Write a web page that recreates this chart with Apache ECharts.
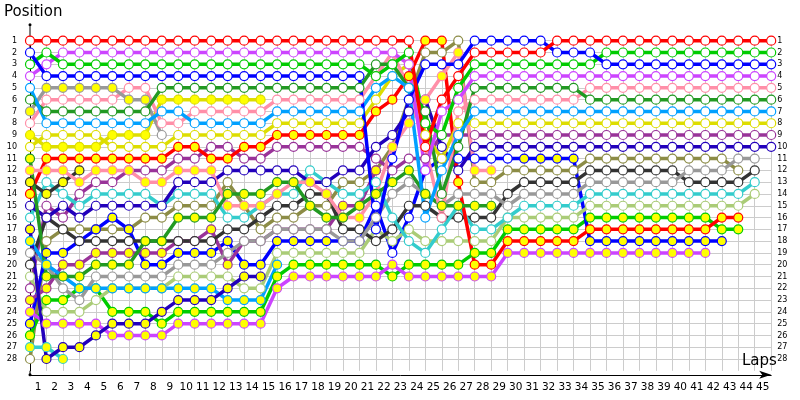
<!DOCTYPE html>
<html><head><meta charset="utf-8">
<script src="https://cdn.jsdelivr.net/npm/echarts@6/dist/echarts.min.js"></script>
<style>html,body{margin:0;padding:0;background:#fff}#c{width:800px;height:400px}</style>
</head><body><div id="c"></div>
<script>
const lapLabels = ['1','2','3','4','5','6','7','8','9','10','11','12','13','14','15','16','17','18','19','20','21','22','23','24','25','26','27','28','29','30','31','32','33','34','35','36','37','38','39','40','41','42','43','44','45'];
const posLabels = ['1','2','3','4','5','6','7','8','9','10','11','12','13','14','15','16','17','18','19','20','21','22','23','24','25','26','27','28'];

// positions per lap column (0..45); fill: W = white marker, Y = yellow marker
const redW = [1,1,1,1,1,1,1,1,1,1, 1,1,1,1,1,1,1,1,1,1, 1,1,1,1,10,6,4,2,2,2, 2,2,1,1,1,1,1,1,1,1, 1,1,1,1,1,1];
const redWFill = 'WWWWWWWWWWWWWWWWWWWWWWWWWWWWWWWWWWWWWWWWWWWWWW';
const blueW = [2,4,4,4,4,4,4,4,4,4, 4,4,4,4,4,4,4,4,4,4, 4,17,11,6,3,3,3,1,1,1, 1,1,2,2,2,3,3,3,3,3, 3,3,3,3,3,3];
const blueWFill = 'WWWWWWWWWWWWWWWWWWWWWWWWWWWWWWWWWWWWWWWWWWWWWW';
const greenW = [3,2,3,3,3,3,3,3,3,3, 3,3,3,3,3,3,3,3,3,3, 3,4,3,2,8,9,5,3,3,3, 3,3,3,3,3,2,2,2,2,2, 2,2,2,2,2,2];
const greenWFill = 'WWWWWWWWWWWWWWWWWWWWWWWWWWWWWWWWWWWWWWWWWWWWWW';
const violetW = [4,3,2,2,2,2,2,2,2,2, 2,2,2,2,2,2,2,2,2,2, 2,2,2,3,12,7,6,4,4,4, 4,4,4,4,4,4,4,4,4,4, 4,4,4,4,4,4];
const violetWFill = 'WWWWWWWWWWWWWWWWWWWWWWWWWWWWWWWWWWWWWWWWWWWWWW';
const ltblueW = [5,8,8,8,8,8,8,8,7,7, 8,8,8,8,8,7,7,7,7,7, 7,5,4,5,16,12,9,7,7,7, 7,7,7,7,7,7,7,7,7,7, 7,7,7,7,7,7];
const ltblueWFill = 'WWWWWWWWWWWWWWWWWWWWWWWWWWWWWWWWWWWWWWWWWWWWWW';
const dkgreenW = [6,7,7,7,7,7,7,7,5,5, 5,5,5,5,5,5,5,5,5,5, 5,3,3,5,7,14,10,5,5,5, 5,5,5,5,6,6,6,6,6,6, 6,6,6,6,6,6];
const dkgreenWFill = 'WWWWWWWWWWWWWWWWWWWWWWWWWWWWWWWWWWWWWWWWWWWWWW';
const grayY = [7,5,5,5,5,5,6,6,9];
const grayYFill = 'YYYYYYYYW';
const pinkW = [8,6,6,6,6,6,5,5,8,8, 7,7,7,7,7,6,6,6,6,6, 6,4,2,5,10,16,7,6,6,6, 6,6,6,6,5,5,5,5,5,5, 5,5,5,5,5,5];
const pinkWFill = 'WWWWWWWWWWWWWWWWWWWWWWWWWWWWWWWWWWWWWWWWWWWWWW';
const yellowY = [9,10,10,10,10,9,9,9,6,6, 6,6,6,6,6];
const yellowYFill = 'YYYYYYYYYYYYYYY';
const yellowW = [10,9,9,9,9,10,10,10,10,9, 9,9,9,9,9,8,8,8,8,8, 8,6,4,3,9,11,8,8,8,8, 8,8,8,8,8,8,8,8,8,8, 8,8,8,8,8,8];
const yellowWFill = 'WWWWWWWWWWWWWWWWWWWWWWWWWWWWWWWWWWWWWWWWWWWWWW';
const dkgreenY = [11,21,21,21,20,20,20,18,18,16, 16,16,14,14,14,13,13,15,16,16, 15,14,13,12,14,15,15,15,15];
const dkgreenYFill = 'YYYYYYYYYYYYYYYYYYYYYYYYYYYYY';
const pinkY = [12,12,12,13,12,12,12,13,13,12, 12,12,15,15,15,14,13,13,14,16, 16,14,10,8,6,4,2,12,12];
const pinkYFill = 'YYYYYYYYYYYYYYYYYYYYYYYYYYYYY';
const blackY = [13,14,13,12];
const blackYFill = 'YYYY';
const redY = [14,11,11,11,11,11,11,11,11,10, 10,11,11,10,10,9,9,9,9,9, 9,7,6,4,1,1,13,20,20,18, 18,18,18,18,17,17,17,17,17,17, 17,17,16,16];
const redYFill = 'YYYYYYYYYYYYYYYYYYYYYYYYYYYYYYYYYYYYYYYYYYYY';
const navyW = [15,16,15,16,15,15,15,15,15,13, 13,13,12,12,12,12,12,13,13,12, 12,10,9,7,6,10,12,10,10,10, 10,10,10,10,10,10,10,10,10,10, 10,10,10,10,10,10];
const navyWFill = 'WWWWWWWWWWWWWWWWWWWWWWWWWWWWWWWWWWWWWWWWWWWWWW';
const cyanW = [16,13,14,15,14,14,14,14,15,14, 14,14,16,16,15,14,14,12,13,14, 14,13,16,18,19,17,15,17,17,16, 15,15,15,15,14,14,14,14,14,14, 14,14,14,14,13];
const cyanWFill = 'WWWWWWWWWWWWWWWWWWWWWWWWWWWWWWWWWWWWWWWWWWWWW';
const navyY = [17,28,27,27,26,25,25,25,24,23, 23,23,22,21,21];
const navyYFill = 'YYYYYYYYYYYYYYY';
const ltblueY = [18,20,21,22,22,22,22,22,22,22, 22,22,23,23,23,20];
const ltblueYFill = 'YYYYYYYYYYYYYYYY';
const grayW = [19,20,22,23,21,21,21,21,21,20, 20,20,19,18,18,17,17,17,17,18, 18,16,14,13,14,15,14,14,14,15, 14,14,14,14,13,13,13,13,13,13, 12,12,12,11,11];
const grayWFill = 'WWWWWWWWWWWWWWWWWWWWWWWWWWWWWWWWWWWWWWWWWWWWW';
const blackW = [20,16,17,18,18,18,18,18,18,18, 18,18,17,17,16,15,15,14,14,17, 17,18,17,15,15,16,16,16,16,14, 13,13,13,13,12,12,12,12,12,12, 13,13,13,13,12];
const blackWFill = 'WWWWWWWWWWWWWWWWWWWWWWWWWWWWWWWWWWWWWWWWWWWWW';
const ltgreenW = [21,24,24,24,23,22,22,22,22,21, 21,21,21,22,22,19,19,19,19,19, 19,17,18,17,18,18,18,18,18,16, 16,16,16,16,15,15,15,15,15,15, 15,15,15,15,14];
const ltgreenWFill = 'WWWWWWWWWWWWWWWWWWWWWWWWWWWWWWWWWWWWWWWWWWWWW';
const purpleW = [22,15,16,14,13,13,12,12,12,11, 11,10,10,11,11,10,10,10,10,10, 10,11,12,11,11,9,9,9,9,9, 9,9,9,9,9,9,9,9,9,9, 9,9,9,9,9,9];
const purpleWFill = 'WWWWWWWWWWWWWWWWWWWWWWWWWWWWWWWWWWWWWWWWWWWWWW';
const purpleY = [23,22,20,20,19,19,19,19,19,18, 18,17,20,18,18,17,17,17,17,15, 15,12];
const purpleYFill = 'YYYYYYYYYYYYYYYYYYYYYY';
const violetY = [24,25,25,25,25,26,26,26,26,25, 25,25,25,25,25,22,21,21,21,21, 21,21,20,21,21,21,21,21,21,19, 19,19,19,19,19,19,19,19,19,19, 19,19];
const violetYFill = 'YYYYYYYYYYYYYYYYYYYYYYYYYYYYYYYYYYYYYYYYYY';
const blueY = [25,19,19,18,17,16,17,20,20,19, 19,19,18,20,20,18,18,18,18,18, 18,15,19,16,12,11,11,11,11,11, 11,11,11,11,18,18,18,18,18,18, 18,18,18];
const blueYFill = 'YYYYYYYYYYYYYYYYYYYYYWWWWWWWWWYYYYYYYYYYYYY';
const greenY = [26,23,23,22,22,24,24,24,25,24, 24,24,24,24,24,21,20,20,20,20, 20,20,21,20,20,20,20,19,19,17, 17,17,17,17,16,16,16,16,16,16, 16,16,17,17];
const greenYFill = 'YYYYYYYYYYYYYYYYYYYYYYYYYYYYYYYYYYYYYYYYYYYY';
const cyanY = [27,27,28];
const cyanYFill = 'YYY';
const oliveW = [28,18,17,17,17,17,17,16,16,15, 15,15,13,15,17,16,16,15,15,13, 13,12,10,6,2,2,1,13,13,12, 12,12,12,12,11,11,11,11,11,11, 11,11,11,12];
const oliveWFill = 'WWWWWWWWWWWWWWWWWWWWWWWWWWWWWWWWWWWWWWWWWWWW';

const lines = [
  [oliveW, oliveWFill, '#8c8c46'],
  [cyanY, cyanYFill, '#33cccc'],
  [greenY, greenYFill, '#00cc00'],
  [blueY, blueYFill, '#0000ff'],
  [violetY, violetYFill, '#cc44ff'],
  [purpleY, purpleYFill, '#993399'],
  [purpleW, purpleWFill, '#993399'],
  [ltgreenW, ltgreenWFill, '#aacc77'],
  [blackW, blackWFill, '#333333'],
  [grayW, grayWFill, '#999999'],
  [ltblueY, ltblueYFill, '#00a0ff'],
  [navyY, navyYFill, '#2200bb'],
  [cyanW, cyanWFill, '#33cccc'],
  [navyW, navyWFill, '#2200bb'],
  [redY, redYFill, '#ff0000'],
  [blackY, blackYFill, '#333333'],
  [pinkY, pinkYFill, '#ff8fa8'],
  [dkgreenY, dkgreenYFill, '#229922'],
  [yellowW, yellowWFill, '#dddd00'],
  [yellowY, yellowYFill, '#dddd00'],
  [pinkW, pinkWFill, '#ff8fa8'],
  [grayY, grayYFill, '#999999'],
  [dkgreenW, dkgreenWFill, '#229922'],
  [ltblueW, ltblueWFill, '#00a0ff'],
  [violetW, violetWFill, '#cc44ff'],
  [greenW, greenWFill, '#00cc00'],
  [blueW, blueWFill, '#0000ff'],
  [redW, redWFill, '#ff0000']
];

const series = lines.map(([pos, fill, col]) => ({
  type: 'line',
  data: pos.map((p, i) => ({ value: [i, p], itemStyle: { color: fill[i] === 'Y' ? '#ffff00' : '#ffffff' } })),
  symbol: 'circle', symbolSize: 9, showSymbol: true, clip: false,
  lineStyle: { color: col, width: 3.5 },
  itemStyle: { borderColor: col, borderWidth: 1.2 },
  emphasis: { disabled: true }, silent: true, animation: false
}));

// axis end decorations: small dot at the start of the x axis, dot + short extension at the top of the y axis
const xDot = 'path://M0,0 M6,12 M4.5,6 A1.5,1.5 0 1,1 1.5,6 A1.5,1.5 0 1,1 4.5,6 Z';
const yTop = 'path://M0,0 M6,32 M4.5,2 A1.5,1.5 0 1,1 1.5,2 A1.5,1.5 0 1,1 4.5,2 Z M2.5,2 L3.5,2 L3.5,32 L2.5,32 Z';
const yBottom = 'path://M0,0 M6,32 M2.5,11 L3.5,11 L3.5,16 L2.5,16 Z';

const font = 'DejaVu Sans';
const chart = echarts.init(document.getElementById('c'), null, { renderer: 'canvas' });
chart.setOption({
  animation: false,
  backgroundColor: '#ffffff',
  title: [
    { text: 'Position', left: 4, top: 5, padding: 0, textStyle: { fontFamily: font, fontSize: 15, fontWeight: 'normal', color: '#000' } },
    { text: 'Laps', left: 742, top: 354, padding: 0, textStyle: { fontFamily: font, fontSize: 15, fontWeight: 'normal', color: '#000' } }
  ],
  grid: { left: 30, right: 28.8, top: 40.7, bottom: 29.2, containLabel: false },
  xAxis: {
    type: 'value', min: 0, max: 45, interval: 1, offset: 4,
    axisLine: { show: true, lineStyle: { color: '#000', width: 1 }, symbol: [xDot, 'arrow'], symbolSize: [6, 12] },
    axisTick: { show: false },
    splitLine: { show: true, lineStyle: { color: '#cccccc', width: 1 } },
    axisLabel: { fontFamily: font, fontSize: 10.5, color: '#000', margin: 7, padding: [0, 0, 0, 16],
      formatter: v => (Number.isInteger(v) && v < lapLabels.length) ? lapLabels[v] : '' }
  },
  yAxis: [{
    type: 'value', inverse: true, min: 1, max: 29, interval: 1,
    axisLine: { show: true, lineStyle: { color: '#000', width: 1 }, symbol: [yBottom, yTop], symbolSize: [6, 32], symbolOffset: [0, 2] },
    axisTick: { show: false },
    splitLine: { show: true, showMaxLine: false, lineStyle: { color: '#cccccc', width: 1 } },
    axisLabel: { fontFamily: font, fontSize: 8, color: '#000', margin: 13,
      formatter: v => (v >= 1 && v <= posLabels.length) ? posLabels[v - 1] : '' }
  }, {
    type: 'value', inverse: true, min: 1, max: 29, interval: 1, position: 'right',
    axisLine: { show: false }, axisTick: { show: false }, splitLine: { show: false },
    axisLabel: { fontFamily: font, fontSize: 8, color: '#000', margin: 6,
      formatter: v => (v >= 1 && v <= posLabels.length) ? posLabels[v - 1] : '' }
  }],
  series: series
});
</script>
</body></html>
